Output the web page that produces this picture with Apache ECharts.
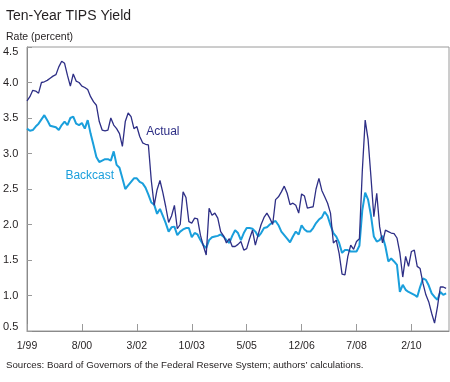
<!DOCTYPE html>
<html>
<head>
<meta charset="utf-8">
<script src="https://cdn.jsdelivr.net/npm/echarts@6/dist/echarts.min.js"></script>
<style>html,body{margin:0;padding:0;background:#fff}#c{width:450px;height:382px}</style>
</head>
<body>
<div id="c"></div>
<script>
// Monthly data, index 0 = Jan 1999
const xTickLabels = ['1/99','8/00','3/02','10/03','5/05','12/06','7/08','2/10'];
const yTickLabels = ['0.5','1.0','1.5','2.0','2.5','3.0','3.5','4.0','4.5'];
const actual = [
3.74,3.80,3.89,3.88,3.85,4.00,4.01,4.03,4.06,4.09,4.11,4.22,
4.30,4.27,4.10,3.95,4.12,4.02,4.00,3.95,3.93,3.90,3.80,3.73,
3.68,3.45,3.33,3.32,3.33,3.50,3.40,3.35,3.28,3.10,3.45,3.57,
3.52,3.35,3.38,3.24,3.15,3.13,3.12,2.62,2.27,2.49,2.62,2.45,
2.25,2.03,2.12,2.27,1.94,2.00,2.46,2.38,2.04,2.02,2.09,2.08,
1.85,1.70,1.57,2.23,2.13,2.16,2.09,1.90,1.84,1.74,1.80,1.69,
1.69,1.72,1.76,1.64,1.66,1.80,1.92,1.71,1.86,2.00,2.10,2.16,
2.09,2.00,2.35,2.39,2.46,2.54,2.44,2.28,2.30,2.27,2.16,2.43,
2.40,2.23,2.24,2.25,2.50,2.65,2.48,2.39,2.30,2.16,1.74,1.78,
1.59,1.30,1.29,1.55,1.71,1.65,1.76,1.80,2.75,3.47,3.20,2.67,
2.11,2.44,1.97,1.74,1.92,1.90,1.88,1.87,1.81,1.60,1.26,1.55,
1.41,1.62,1.64,1.41,1.38,1.17,1.01,0.91,0.75,0.61,0.84,1.12,
1.12,1.10
];
const backcast = [
3.35,3.32,3.33,3.38,3.42,3.48,3.54,3.47,3.39,3.38,3.37,3.33,
3.40,3.45,3.40,3.50,3.52,3.42,3.40,3.43,3.35,3.47,3.28,3.12,
2.95,2.88,2.90,2.92,2.92,2.90,3.03,2.84,2.80,2.65,2.50,2.55,
2.60,2.65,2.65,2.60,2.58,2.52,2.42,2.31,2.28,2.15,2.22,2.12,
2.02,1.90,1.96,1.97,1.85,1.90,1.93,1.95,1.95,1.82,1.88,1.86,
1.78,1.71,1.67,1.78,1.82,1.83,1.84,1.86,1.83,1.78,1.74,1.84,
1.92,1.88,1.78,1.88,1.95,1.95,1.94,1.90,1.83,1.88,1.95,1.96,
2.00,2.03,2.05,1.99,1.90,1.85,1.80,1.75,1.83,1.90,1.86,1.99,
1.93,1.90,1.90,1.95,2.02,2.07,2.10,2.18,2.12,1.99,1.88,1.83,
1.74,1.60,1.64,1.64,1.62,1.62,1.62,1.70,2.20,2.45,2.35,2.13,
1.83,1.76,1.78,1.84,1.69,1.48,1.52,1.48,1.43,1.05,1.15,1.08,
1.05,1.03,1.01,0.98,1.12,1.24,1.22,1.14,1.03,0.98,0.94,1.05,
1.01,1.03
];
const seriesNames = ['Actual','Backcast'];
const tickStep = 19; // months between x ticks

const font = 'Liberation Sans, Arial, Helvetica, sans-serif';
const chart = echarts.init(document.getElementById('c'), null, {renderer:'canvas'});
const toPairs = arr => arr.map((v,i)=>[i,v]);
chart.setOption({
  animation:false,
  backgroundColor:'#fff',
  textStyle:{fontFamily:font},
  title:[
    {text:'Ten-Year TIPS Yield', left:1, top:4, textStyle:{fontFamily:font,fontSize:14,fontWeight:'normal',color:'#231f20'}},
    {text:'Rate (percent)', left:1, top:27, textStyle:{fontFamily:font,fontSize:10.5,fontWeight:'normal',color:'#231f20'}},
    {text:'Sources: Board of Governors of the Federal Reserve System; authors\u2019 calculations.', left:1, top:355, textStyle:{fontFamily:font,fontSize:9.7,fontWeight:'normal',color:'#231f20'}}
  ],
  grid:{left:25, right:1, top:47, bottom:51, show:true, borderColor:'#9a9a9a', borderWidth:1},
  xAxis:{
    type:'value', min:0, max:146, interval:tickStep,
    axisLine:{show:true, lineStyle:{color:'#8a8a8a'}},
    axisTick:{show:true, inside:true, length:7, lineStyle:{color:'#9a9a9a'}},
    splitLine:{show:false},
    axisLabel:{margin:10, fontSize:10.5, color:'#231f20', fontFamily:font, showMaxLabel:false,
      formatter:v=>{const i=Math.round(v/tickStep); return (v%tickStep===0 && xTickLabels[i])?xTickLabels[i]:'';}}
  },
  yAxis:{
    type:'value', min:0.5, max:4.5, interval:0.5,
    axisLine:{show:true, lineStyle:{color:'#8a8a8a'}},
    axisTick:{show:true, inside:true, length:5, lineStyle:{color:'#9a9a9a'}},
    splitLine:{show:false},
    axisLabel:{align:'left', margin:24, fontSize:11, color:'#231f20', fontFamily:font,
      formatter:v=>{const i=Math.round((v-0.5)/0.5); const t=yTickLabels[i]||'';
        if(i===yTickLabels.length-1) return '{top|'+t+'}';
        if(i===0) return '{bot|'+t+'}';
        return t;},
      rich:{top:{padding:[10,0,0,0],fontSize:11,color:'#231f20',fontFamily:font},
            bot:{padding:[0,0,8,0],fontSize:11,color:'#231f20',fontFamily:font}}}
  },
  series:[
    {name:seriesNames[1], type:'line', data:toPairs(backcast), symbol:'none',
     lineStyle:{color:'#1a9fdc', width:2}, z:2,
     markPoint:{symbol:'circle', symbolSize:0, silent:true,
       data:[{coord:[21.7,2.69], label:{show:true, formatter:seriesNames[1], color:'#1a9fdc', fontSize:12, fontFamily:font, position:'inside'}}]}},
    {name:seriesNames[0], type:'line', data:toPairs(actual), symbol:'none',
     lineStyle:{color:'#2e2f86', width:1.3}, z:3,
     markPoint:{symbol:'circle', symbolSize:0, silent:true,
       data:[{coord:[47,3.31], label:{show:true, formatter:seriesNames[0], color:'#2e2f86', fontSize:12, fontFamily:font, position:'inside'}}]}}
  ]
});
</script>
</body>
</html>
